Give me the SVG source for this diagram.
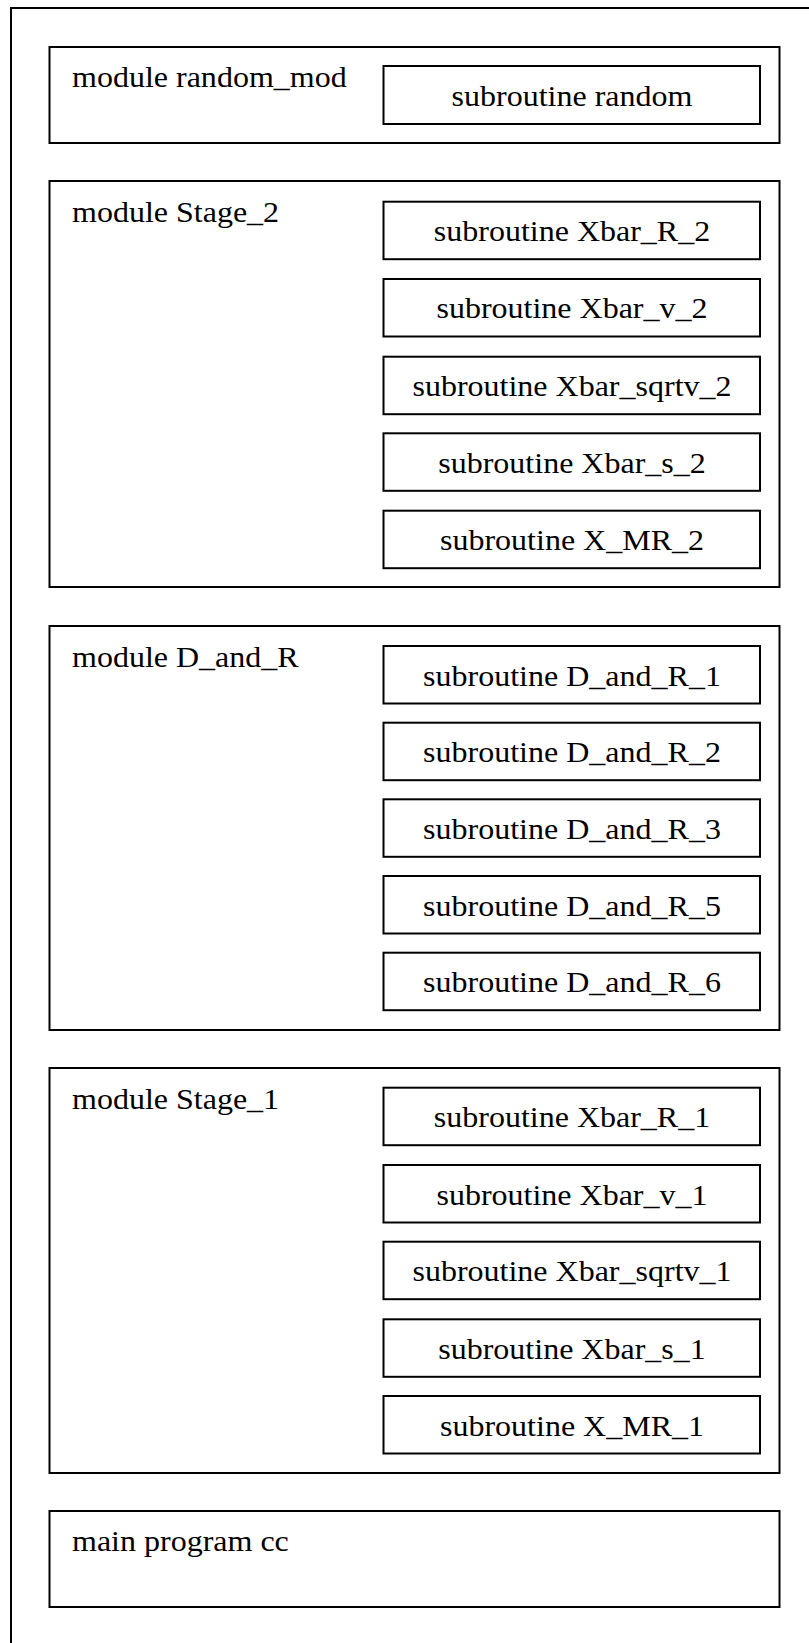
<svg xmlns="http://www.w3.org/2000/svg" width="809" height="1643" viewBox="0 0 809 1643">
<style>
.frame{fill:none;stroke:#000;stroke-width:2}
.mod{fill:none;stroke:#000;stroke-width:2}
.sub{fill:none;stroke:#000;stroke-width:2}
text{font-family:"Liberation Serif","Times New Roman",serif;font-size:29px;fill:#000}
.c{text-anchor:middle}
</style>
<rect width="809" height="1643" fill="#fff"/>
<g id="outer-frame"><path class="frame" d="M11,1643 V8 H809"/></g>
<g id="connectors"></g>
<g id="module-random_mod">
<rect class="mod" x="49.5" y="47" width="730" height="96"/>
<text x="72" y="87" textLength="274.7" lengthAdjust="spacingAndGlyphs">module random_mod</text>
</g>
<g id="sub-random">
<rect class="sub" x="383.5" y="66" width="376.5" height="58"/>
<text class="c" x="572" y="105.5" textLength="240.9" lengthAdjust="spacingAndGlyphs">subroutine random</text>
</g>
<g id="module-Stage_2">
<rect class="mod" x="49.5" y="181" width="730" height="406"/>
<text x="72" y="222" textLength="207.1" lengthAdjust="spacingAndGlyphs">module Stage_2</text>
</g>
<g id="sub-Xbar_R_2">
<rect class="sub" x="383.5" y="201.7" width="376.5" height="57.5"/>
<text class="c" x="572" y="241" textLength="276.4" lengthAdjust="spacingAndGlyphs">subroutine Xbar_R_2</text>
</g>
<g id="sub-Xbar_v_2">
<rect class="sub" x="383.5" y="279" width="376.5" height="57.5"/>
<text class="c" x="572" y="318.3" textLength="271.1" lengthAdjust="spacingAndGlyphs">subroutine Xbar_v_2</text>
</g>
<g id="sub-Xbar_sqrtv_2">
<rect class="sub" x="383.5" y="356.7" width="376.5" height="57.5"/>
<text class="c" x="572" y="396" textLength="319.1" lengthAdjust="spacingAndGlyphs">subroutine Xbar_sqrtv_2</text>
</g>
<g id="sub-Xbar_s_2">
<rect class="sub" x="383.5" y="433.3" width="376.5" height="57.5"/>
<text class="c" x="572" y="472.6" textLength="267.5" lengthAdjust="spacingAndGlyphs">subroutine Xbar_s_2</text>
</g>
<g id="sub-X_MR_2">
<rect class="sub" x="383.5" y="510.7" width="376.5" height="57.5"/>
<text class="c" x="572" y="550" textLength="264" lengthAdjust="spacingAndGlyphs">subroutine X_MR_2</text>
</g>
<g id="module-D_and_R">
<rect class="mod" x="49.5" y="626" width="730" height="404"/>
<text x="72" y="667" textLength="226.7" lengthAdjust="spacingAndGlyphs">module D_and_R</text>
</g>
<g id="sub-D_and_R_1">
<rect class="sub" x="383.5" y="646" width="376.5" height="57.5"/>
<text class="c" x="572" y="685.5" textLength="297.8" lengthAdjust="spacingAndGlyphs">subroutine D_and_R_1</text>
</g>
<g id="sub-D_and_R_2">
<rect class="sub" x="383.5" y="722.7" width="376.5" height="57.5"/>
<text class="c" x="572" y="762.2" textLength="297.8" lengthAdjust="spacingAndGlyphs">subroutine D_and_R_2</text>
</g>
<g id="sub-D_and_R_3">
<rect class="sub" x="383.5" y="799.3" width="376.5" height="57.5"/>
<text class="c" x="572" y="838.8" textLength="297.8" lengthAdjust="spacingAndGlyphs">subroutine D_and_R_3</text>
</g>
<g id="sub-D_and_R_5">
<rect class="sub" x="383.5" y="876" width="376.5" height="57.5"/>
<text class="c" x="572" y="915.5" textLength="297.8" lengthAdjust="spacingAndGlyphs">subroutine D_and_R_5</text>
</g>
<g id="sub-D_and_R_6">
<rect class="sub" x="383.5" y="952.7" width="376.5" height="57.5"/>
<text class="c" x="572" y="992.2" textLength="297.8" lengthAdjust="spacingAndGlyphs">subroutine D_and_R_6</text>
</g>
<g id="module-Stage_1">
<rect class="mod" x="49.5" y="1068" width="730" height="405"/>
<text x="72" y="1108.5" textLength="207.1" lengthAdjust="spacingAndGlyphs">module Stage_1</text>
</g>
<g id="sub-Xbar_R_1">
<rect class="sub" x="383.5" y="1087.7" width="376.5" height="57.5"/>
<text class="c" x="572" y="1127.2" textLength="276.4" lengthAdjust="spacingAndGlyphs">subroutine Xbar_R_1</text>
</g>
<g id="sub-Xbar_v_1">
<rect class="sub" x="383.5" y="1165" width="376.5" height="57.5"/>
<text class="c" x="572" y="1204.5" textLength="271.1" lengthAdjust="spacingAndGlyphs">subroutine Xbar_v_1</text>
</g>
<g id="sub-Xbar_sqrtv_1">
<rect class="sub" x="383.5" y="1241.7" width="376.5" height="57.5"/>
<text class="c" x="572" y="1281.2" textLength="319.1" lengthAdjust="spacingAndGlyphs">subroutine Xbar_sqrtv_1</text>
</g>
<g id="sub-Xbar_s_1">
<rect class="sub" x="383.5" y="1319.3" width="376.5" height="57.5"/>
<text class="c" x="572" y="1358.8" textLength="267.5" lengthAdjust="spacingAndGlyphs">subroutine Xbar_s_1</text>
</g>
<g id="sub-X_MR_1">
<rect class="sub" x="383.5" y="1396" width="376.5" height="57.5"/>
<text class="c" x="572" y="1435.5" textLength="264" lengthAdjust="spacingAndGlyphs">subroutine X_MR_1</text>
</g>
<g id="main-program-cc">
<rect class="mod" x="49.5" y="1511" width="730" height="96"/>
<text x="72" y="1551" textLength="216.8" lengthAdjust="spacingAndGlyphs">main program cc</text>
</g>
</svg>
